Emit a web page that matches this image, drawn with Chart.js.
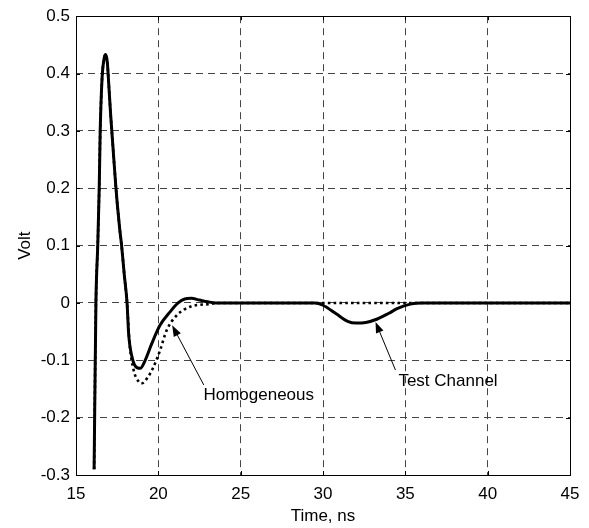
<!DOCTYPE html>
<html>
<head>
<meta charset="utf-8">
<script src="https://cdn.jsdelivr.net/npm/chart.js@4"></script>
<style>
  html, body { margin: 0; padding: 0; background: #fff; }
  #wrap { width: 589px; height: 528px; }
</style>
</head>
<body>
<div id="wrap"><canvas id="chartCanvas"></canvas></div>
<script>
"use strict";

// Test Channel (solid)
const tcX = [16.1, 16.21, 16.32, 16.41, 16.47, 16.58, 16.7, 16.8, 16.9, 16.99, 17.1, 17.25, 17.4, 17.5, 17.65, 17.77, 17.93, 18.1, 18.2, 18.4, 18.6, 18.9, 19.2, 19.6, 20.1, 20.7, 21.2, 21.6, 22.0, 22.5, 23.0, 23.5, 29.5, 30.0, 30.8, 31.5, 32.0, 32.6, 33.3, 34.0, 34.5, 35.3, 36.0, 45];
const tcY = [-0.29, 0.0, 0.1, 0.2, 0.3, 0.39, 0.425, 0.433, 0.42, 0.381, 0.33, 0.27, 0.21, 0.175, 0.13, 0.1, 0.05, 0.0, -0.055, -0.094, -0.11, -0.114, -0.1, -0.071, -0.039, -0.016, 0.0, 0.007, 0.008, 0.005, 0.002, 0.0, 0.0, -0.004, -0.019, -0.032, -0.035, -0.034, -0.028, -0.018, -0.01, -0.002, 0.0, 0.0];

// Homogeneous (dotted)
const hgX = [16.1, 16.21, 16.32, 16.41, 16.47, 16.58, 16.7, 16.8, 16.9, 16.99, 17.1, 17.25, 17.4, 17.5, 17.65, 17.77, 17.93, 18.1, 18.25, 18.5, 18.8, 19.0, 19.3, 19.7, 20.1, 20.5, 21.1, 21.6, 22.1, 23.1, 23.6, 45];
const hgY = [-0.29, 0.0, 0.1, 0.2, 0.3, 0.39, 0.425, 0.433, 0.42, 0.381, 0.33, 0.27, 0.21, 0.175, 0.13, 0.1, 0.05, 0.0, -0.07, -0.117, -0.137, -0.14, -0.132, -0.112, -0.083, -0.048, -0.022, -0.011, -0.005, -0.002, 0.0, 0.0];

const xTicks = [15, 20, 25, 30, 35, 40, 45];
const yTicks = [-0.3, -0.2, -0.1, 0, 0.1, 0.2, 0.3, 0.4, 0.5];

const FONT = { family: '"Liberation Sans", Arial, sans-serif', size: 17 };

function pts(xs, ys) {
    return xs.map((x, i) => ({ x: x, y: ys[i] }));
}

const notes = [
    { text: 'Homogeneous', tx: 22.74, ty: -0.161, fromX: 22.76, fromY: -0.143, toX: 20.84, toY: -0.039 },
    { text: 'Test Channel', tx: 34.58, ty: -0.137, fromX: 34.4, fromY: -0.117, toX: 33.19, toY: -0.033 }
];

const framePlugin = {
    id: 'frame',
    afterDatasetsDraw(chart) {
        const ctx = chart.ctx;
        const a = chart.chartArea;
        const xs = chart.scales.x, ys = chart.scales.y;
        ctx.save();
        ctx.strokeStyle = '#000';
        ctx.lineWidth = 1;
        ctx.beginPath();
        // small inner ticks on all four sides
        xTicks.forEach(v => {
            const px = Math.round(xs.getPixelForValue(v)) + 0.5;
            ctx.moveTo(px, a.bottom); ctx.lineTo(px, a.bottom - 4);
            ctx.moveTo(px, a.top); ctx.lineTo(px, a.top + 4);
        });
        yTicks.forEach(v => {
            const py = Math.round(ys.getPixelForValue(v)) + 0.5;
            ctx.moveTo(a.left, py); ctx.lineTo(a.left + 4, py);
            ctx.moveTo(a.right, py); ctx.lineTo(a.right - 4, py);
        });
        ctx.stroke();
        ctx.strokeRect(Math.round(a.left) + 0.5, Math.round(a.top) + 0.5,
            Math.round(a.right - a.left), Math.round(a.bottom - a.top));

        // annotations with arrows
        ctx.font = FONT.size + 'px ' + FONT.family;
        ctx.fillStyle = '#000';
        ctx.textAlign = 'left';
        ctx.textBaseline = 'middle';
        notes.forEach(n => {
            const x1 = xs.getPixelForValue(n.fromX), y1 = ys.getPixelForValue(n.fromY);
            const x2 = xs.getPixelForValue(n.toX), y2 = ys.getPixelForValue(n.toY);
            const ang = Math.atan2(y2 - y1, x2 - x1);
            const hl = 11, hw = 4;
            const bx = x2 - hl * Math.cos(ang), by = y2 - hl * Math.sin(ang);
            ctx.beginPath();
            ctx.moveTo(x1, y1); ctx.lineTo(bx, by);
            ctx.stroke();
            ctx.beginPath();
            ctx.moveTo(x2, y2);
            ctx.lineTo(bx + hw * Math.sin(ang), by - hw * Math.cos(ang));
            ctx.lineTo(bx - hw * Math.sin(ang), by + hw * Math.cos(ang));
            ctx.closePath();
            ctx.fill();
            ctx.fillText(n.text, xs.getPixelForValue(n.tx), ys.getPixelForValue(n.ty));
        });
        ctx.restore();
    }
};

const isEdge = (v, lo, hi) => Math.abs(v - lo) < 1e-9 || Math.abs(v - hi) < 1e-9;

const config = {
    type: 'line',
    data: {
        datasets: [{
            label: 'Homogeneous',
            data: pts(hgX, hgY),
            borderColor: '#000',
            borderWidth: 2.6,
            borderDash: [2.6, 3.2],
            pointRadius: 0,
            cubicInterpolationMode: 'monotone',
            fill: false,
            order: 2
        }, {
            label: 'Test Channel',
            data: pts(tcX, tcY),
            borderColor: '#000',
            borderWidth: 3,
            pointRadius: 0,
            cubicInterpolationMode: 'monotone',
            fill: false,
            order: 1
        }]
    },
    options: {
        responsive: true,
        maintainAspectRatio: false,
        animation: false,
        events: [],
        layout: { padding: { top: 15, right: 19, left: 0, bottom: 0 } },
        plugins: {
            legend: { display: false },
            tooltip: { enabled: false }
        },
        scales: {
            x: {
                type: 'linear',
                min: 15, max: 45,
                afterBuildTicks: s => { s.ticks = xTicks.map(v => ({ value: v })); },
                afterFit: s => { s.height = 53; },
                ticks: { color: '#000', font: FONT, padding: 9, maxRotation: 0 },
                grid: {
                    drawTicks: false,
                    lineWidth: 1,
                    color: c => isEdge(c.tick.value, 15, 45) ? 'rgba(0,0,0,0)' : '#444'
                },
                border: { display: false, dash: [7, 5] },
                title: { display: true, text: 'Time, ns', color: '#000', font: FONT, padding: { top: 0, bottom: 1 } }
            },
            y: {
                type: 'linear',
                min: -0.3, max: 0.5,
                afterBuildTicks: s => { s.ticks = yTicks.map(v => ({ value: v })); },
                afterFit: s => { s.width = 76; },
                ticks: {
                    color: '#000', font: FONT, padding: 6,
                    callback: v => String(Math.round(v * 10) / 10)
                },
                grid: {
                    drawTicks: false,
                    lineWidth: 1,
                    color: c => isEdge(c.tick.value, -0.3, 0.5) ? 'rgba(0,0,0,0)' : '#444'
                },
                border: { display: false, dash: [7, 5] },
                title: { display: true, text: 'Volt', color: '#000', font: FONT, padding: { top: 15, bottom: 0 } }
            }
        }
    },
    plugins: [framePlugin]
};

new Chart(document.getElementById('chartCanvas'), config);
</script>
</body>
</html>
